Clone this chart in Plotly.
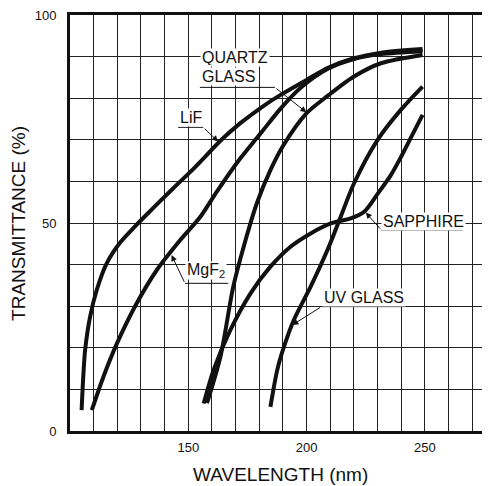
import plotly.graph_objects as go

# ---- data ----
lif_x = [104.9, 105.6, 106.4, 108.5, 111.3, 115.5, 121.2, 127.5, 135.0, 143.0, 153.0, 164.0, 172.0, 181.4, 189.0, 200.0, 209.0, 220.0, 231.0, 249.0]
lif_y = [5.0, 13.0, 19.5, 27.5, 33.9, 40.3, 45.3, 49.2, 53.5, 58.0, 63.5, 70.0, 74.0, 78.0, 80.8, 84.4, 87.3, 89.6, 90.9, 91.8]

mgf2_x = [109.2, 114.1, 119.8, 128.2, 136.7, 146.6, 155.1, 162.0, 170.6, 180.5, 189.0, 197.5, 208.8, 220.0, 231.4, 249.0]
mgf2_y = [5.0, 13.0, 21.0, 30.7, 38.7, 45.9, 51.5, 57.5, 64.5, 71.5, 77.5, 82.5, 87.0, 89.4, 90.6, 91.3]

quartz_x = [157.9, 163.6, 169.0, 173.4, 179.0, 184.7, 190.0, 200.0, 209.0, 220.0, 231.4, 249.0]
quartz_y = [6.7, 17.9, 34.7, 44.3, 54.8, 62.7, 68.5, 76.4, 80.6, 85.2, 88.4, 90.4]

sapphire_x = [156.5, 160.7, 167.8, 176.3, 184.7, 193.2, 201.7, 210.2, 218.6, 224.3, 230.0, 235.6, 240.0, 244.5, 249.0]
sapphire_y = [6.6, 14.7, 24.3, 33.1, 39.5, 44.3, 47.5, 49.9, 51.1, 52.7, 57.0, 61.5, 66.0, 71.0, 76.0]

uvglass_x = [184.7, 187.6, 190.4, 194.6, 201.7, 208.8, 214.4, 220.0, 230.0, 239.8, 249.0]
uvglass_y = [5.8, 14.7, 20.2, 26.7, 34.7, 43.5, 51.5, 59.5, 70.0, 77.2, 82.8]

x_tickvals = list(range(100, 280, 10))
x_ticktext = ["150" if v == 150 else "200" if v == 200 else "250" if v == 250 else "" for v in x_tickvals]
y_tickvals = list(range(0, 101, 10))
y_ticktext = ["0" if v == 0 else "50" if v == 50 else "100" if v == 100 else "" for v in y_tickvals]

FONT = "Liberation Sans, Arial, Helvetica, sans-serif"
INK = "#111111"

fig = go.Figure()
for xs, ys in [(lif_x, lif_y), (mgf2_x, mgf2_y), (quartz_x, quartz_y),
               (sapphire_x, sapphire_y), (uvglass_x, uvglass_y)]:
    fig.add_trace(go.Scatter(x=xs, y=ys, mode="lines",
                             line=dict(color=INK, width=4, shape="spline", smoothing=0.8),
                             showlegend=False, hoverinfo="skip"))

# labels: (text, x_left, y_center, underline_end_x, underline_y, arrow_tip_x, arrow_tip_y, leader_from_right)
labels = [
    ("QUARTZ", 154.9, 89.7, None, None, None, None, False),
    ("GLASS", 154.9, 85.2, 186.6, 82.6, 199.9, 76.6, True),
    ("LiF", 145.7, 75.4, 156.3, 73.0, 162.6, 69.6, True),
    ("MgF<sub>2</sub>", 148.6, 38.7, 166.9, 35.5, 142.9, 42.3, False),
    ("SAPPHIRE", 231.6, 50.3, 266.1, 48.3, 225.0, 52.5, False),
    ("UV GLASS", 206.3, 32.1, 241.5, 29.9, 194.0, 25.5, False),
]

annotations = []
shapes = []
for text, xl, yc, ux, uy, tx, ty, from_right in labels:
    annotations.append(dict(x=xl, y=yc, xref="x", yref="y", text=text, showarrow=False,
                            xanchor="left", yanchor="middle", bgcolor="white", borderpad=1,
                            height=15, font=dict(family=FONT, size=16, color=INK)))
    if ux is not None:
        shapes.append(dict(type="line", xref="x", yref="y", x0=xl, y0=uy, x1=ux, y1=uy,
                           line=dict(color=INK, width=1)))
        annotations.append(dict(x=tx, y=ty, xref="x", yref="y", ax=ux if from_right else xl,
                                ay=uy, axref="x", ayref="y", text="", showarrow=True,
                                arrowhead=2, arrowsize=1.2, arrowwidth=1, arrowcolor=INK, standoff=0))

# axis titles
annotations.append(dict(x=0.5, y=-0.104, xref="paper", yref="paper", text="WAVELENGTH (nm)",
                        showarrow=False, xanchor="center", yanchor="middle",
                        font=dict(family=FONT, size=19, color=INK)))
annotations.append(dict(x=-0.124, y=0.5, xref="paper", yref="paper", text="TRANSMITTANCE (%)",
                        showarrow=False, xanchor="center", yanchor="middle", textangle=-90,
                        font=dict(family=FONT, size=19, color=INK)))

# the page body has an 8px margin, so the figure is sized/margined to compensate
fig.update_layout(
    width=482, height=478,
    margin=dict(l=62, r=0, t=7, b=55),
    paper_bgcolor="white", plot_bgcolor="white",
    font=dict(family=FONT, size=13, color=INK),
    annotations=annotations, shapes=shapes,
    showlegend=False,
)
fig.update_xaxes(range=[100, 277.5], tickvals=x_tickvals, ticktext=x_ticktext,
                 showgrid=True, gridcolor="#222222", gridwidth=1, zeroline=False,
                 showline=True, linecolor=INK, linewidth=3, mirror=True,
                 ticks="", ticklabelstandoff=2, ticklabeloverflow="allow", tickfont=dict(size=13))
fig.update_yaxes(range=[0, 100], tickvals=y_tickvals, ticktext=y_ticktext,
                 showgrid=True, gridcolor="#222222", gridwidth=1, zeroline=False,
                 showline=True, linecolor=INK, linewidth=3, mirror=False,
                 ticks="", ticklabelstandoff=8, ticklabeloverflow="allow", tickfont=dict(size=13))

fig.write_html("out.html")
